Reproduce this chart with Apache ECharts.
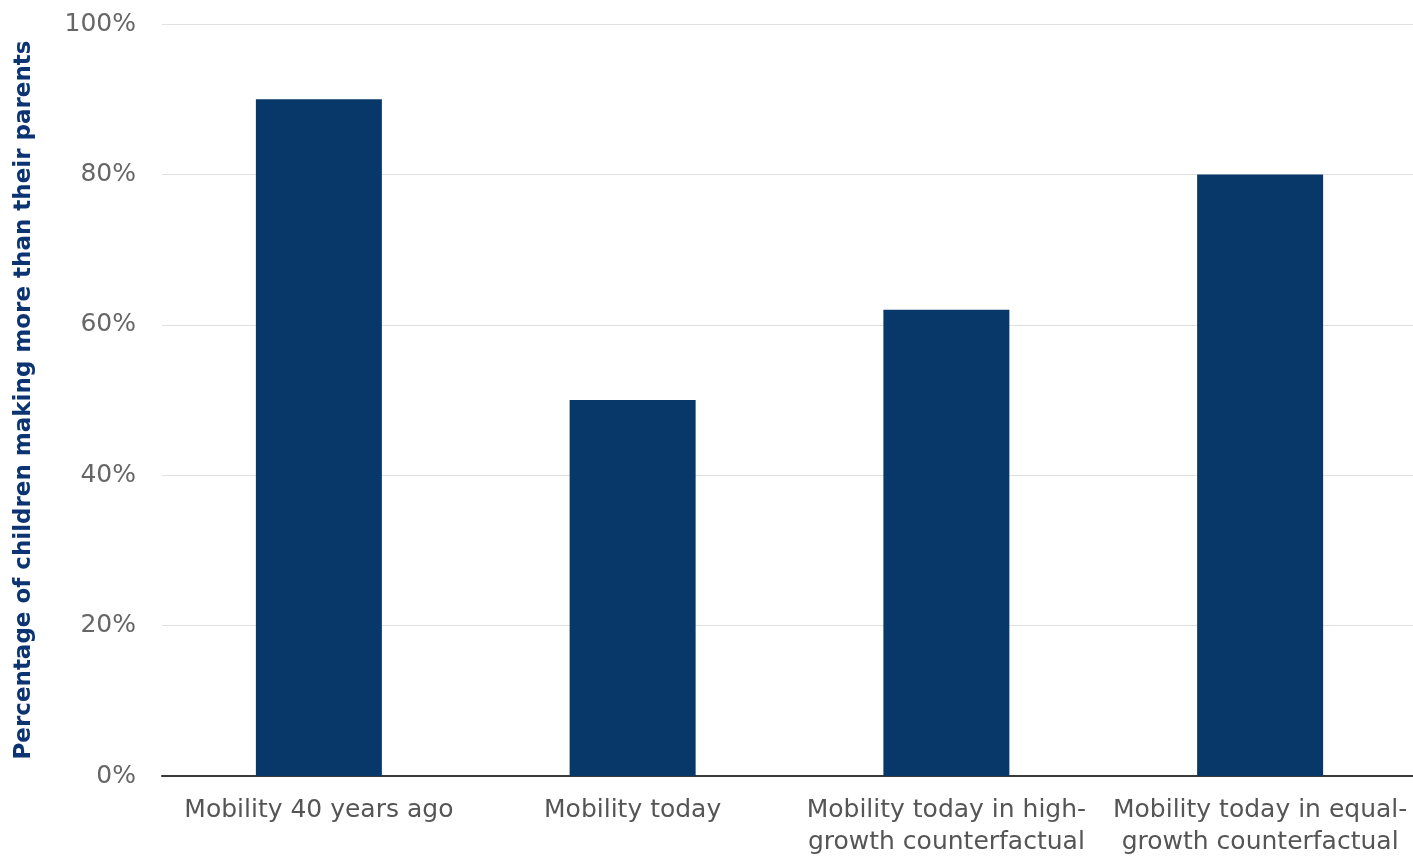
<!DOCTYPE html>
<html><head><meta charset="utf-8">
<script src="https://cdn.jsdelivr.net/npm/echarts@6/dist/echarts.min.js"></script>
<style>html,body{margin:0;padding:0;background:#fff;}#c{width:1413px;height:857px;}</style>
</head><body><div id="c"></div>
<script>
const categories = ["Mobility 40 years ago", "Mobility today", "Mobility today in high-\ngrowth counterfactual", "Mobility today in equal-\ngrowth counterfactual"];
const values = [90, 50, 62, 80];
const yTicks = [0, 20, 40, 60, 80, 100];
const yTitle = "Percentage of children making more than their parents";

const FONT = '"DejaVu Sans", sans-serif';
const chart = echarts.init(document.getElementById('c'));
chart.setOption({
  animation: false,
  grid: { left: 162, width: 1255, top: 24, bottom: 81, containLabel: false, outerBoundsMode: 'none' },
  xAxis: {
    type: 'category', data: categories,
    axisLine: { lineStyle: { color: '#3a3a3a', width: 2 } },
    axisTick: { show: false },
    axisLabel: { color: '#555', fontSize: 25, fontFamily: FONT, lineHeight: 32, margin: 18, interval: 0 }
  },
  yAxis: {
    type: 'value', min: yTicks[0], max: yTicks[yTicks.length-1], interval: 20,
    name: yTitle, nameLocation: 'middle', nameGap: 126, nameRotate: 90,
    nameTextStyle: { color: '#0c3472', fontSize: 23, fontWeight: 'bold', fontFamily: FONT },
    axisLine: { show: false }, axisTick: { show: false },
    axisLabel: { color: '#666', fontSize: 25, fontFamily: FONT, margin: 26, formatter: v => v + '%' },
    splitLine: { lineStyle: { color: '#e0e0e0', width: 1 } }
  },
  series: [{
    type: 'bar', data: values, barWidth: 126,
    itemStyle: { color: '#08386a' }
  }]
});
</script></body></html>
